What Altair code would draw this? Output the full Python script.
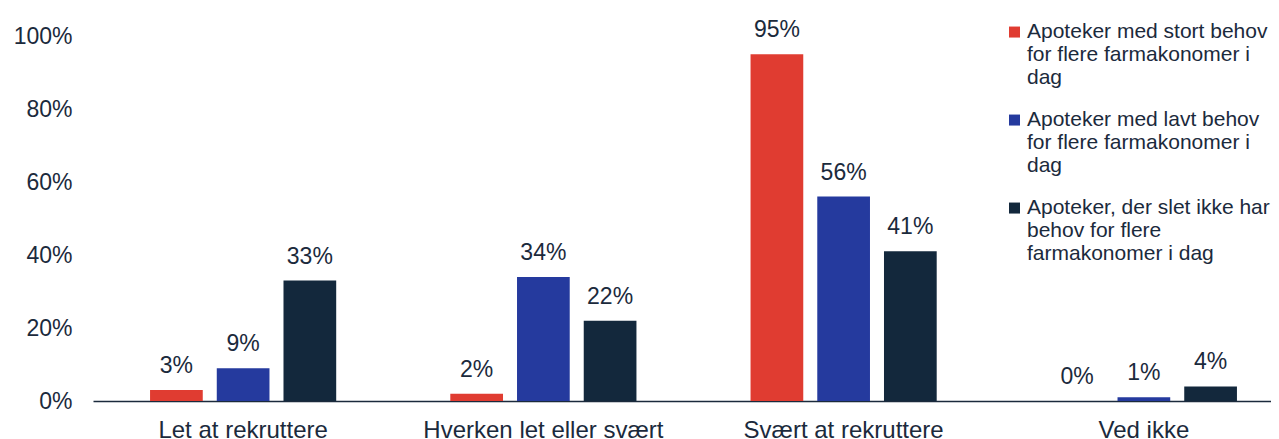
import altair as alt
import pandas as pd

categories = ["Let at rekruttere", "Hverken let eller svært", "Svært at rekruttere", "Ved ikke"]
series_labels = [
    "Apoteker med stort behov|for flere farmakonomer i|dag",
    "Apoteker med lavt behov|for flere farmakonomer i|dag",
    "Apoteker, der slet ikke har|behov for flere|farmakonomer i dag",
]
stort_behov = [3, 2, 95, 0]
lavt_behov = [9, 34, 56, 1]
slet_ikke = [33, 22, 41, 4]
colors = ["#E03C31", "#253A9E", "#13283C"]
y_ticks = [0, 20, 40, 60, 80, 100]

rows = []
for s, vals in zip(series_labels, [stort_behov, lavt_behov, slet_ikke]):
    for c, v in zip(categories, vals):
        rows.append({"kategori": c, "serie": s, "value": v})
df = pd.DataFrame(rows)

FONT = "Liberation Sans"
TXT = "#1B2A3C"

base = alt.Chart(df).encode(
    x=alt.X(
        "kategori:N",
        sort=categories,
        title=None,
        scale=alt.Scale(range=[0, 1201], paddingInner=0.34, paddingOuter=0.17),
        axis=alt.Axis(
            labelAngle=0, labelFontSize=24, labelPadding=17, ticks=False,
            domainColor=TXT, domainWidth=1.5, labelColor=TXT, labelFont=FONT,
            labelLimit=0,
        ),
    ),
    xOffset=alt.XOffset(
        "serie:N", sort=series_labels,
        scale=alt.Scale(paddingInner=0.21, paddingOuter=0.09),
    ),
    y=alt.Y(
        "value:Q",
        title=None,
        scale=alt.Scale(domain=[0, 100]),
        axis=alt.Axis(
            values=y_ticks, grid=False, domain=False, ticks=False,
            labelExpr="datum.value + '%'", labelFontSize=23, labelPadding=21,
            labelColor=TXT, labelFont=FONT,
        ),
    ),
)

bars = base.mark_bar().encode(
    color=alt.Color(
        "serie:N",
        sort=series_labels,
        scale=alt.Scale(domain=series_labels, range=colors),
        legend=alt.Legend(
            title=None, orient="none", legendX=911, legendY=-26,
            symbolType="M-1,1.1 L1,1.1 L1,3.1 L-1,3.1 Z", symbolSize=121,
            symbolStrokeWidth=0,
            labelExpr="split(datum.label, '|')", labelFontSize=21,
            labelFont=FONT, labelColor=TXT, labelLimit=400, labelOffset=2,
            labelBaseline="top", rowPadding=10,
        ),
    )
)

labels = base.mark_text(
    fontSize=23, font=FONT, color=TXT, baseline="alphabetic", dy=-17
).encode(text=alt.Text("label:N")).transform_calculate(
    label="datum.value + '%'"
)

chart = (
    alt.layer(bars, labels)
    .properties(
        width=1178, height=365,
        padding={"left": 85, "top": 28, "right": 0, "bottom": 38},
        autosize=alt.AutoSizeParams(type="none"),
    )
    .configure_view(stroke=None)
)

chart.save("out.html", embed_options={"renderer": "svg", "actions": False})
